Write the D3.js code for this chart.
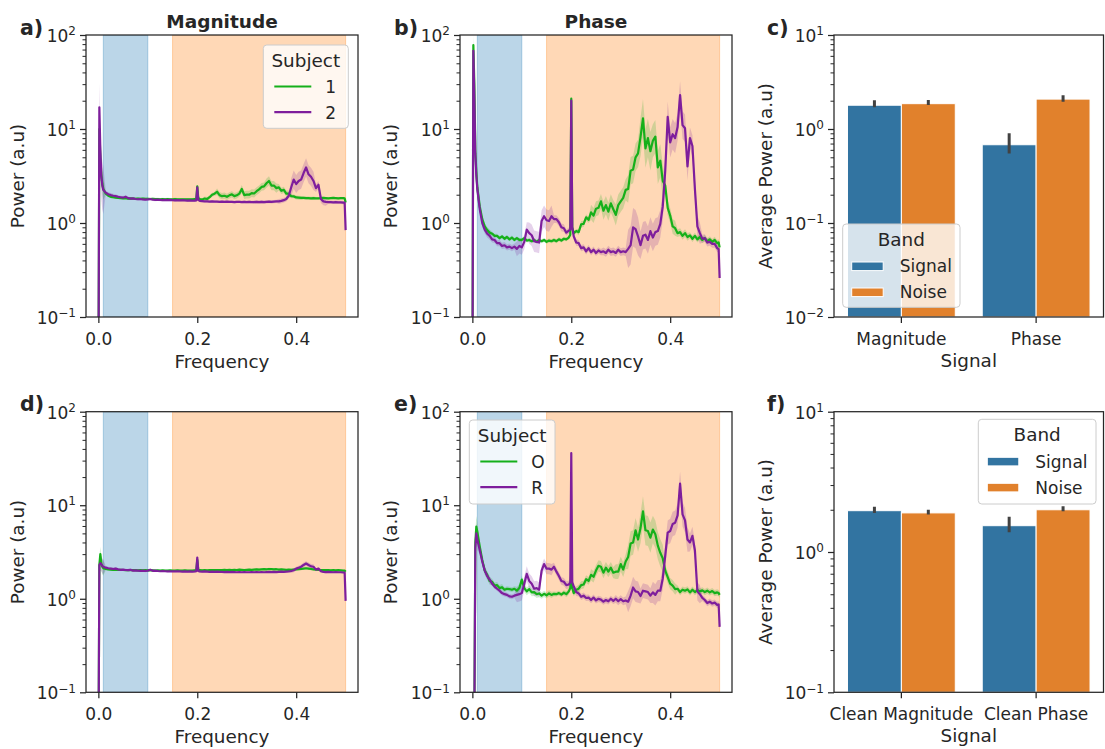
<!DOCTYPE html>
<html><head><meta charset="utf-8">
<script src="https://cdn.jsdelivr.net/npm/d3@7"></script>
<style>
body{margin:0;background:#fff;}
svg{display:block;font-family:"DejaVu Sans",sans-serif;}
</style></head><body>
<svg id="chart" width="1105" height="749"></svg>
<script>
// ---------- DATA ----------
const freqs = [0,0.002,0.004,0.006,0.008,0.01,
0.015,0.02,0.025,0.03,0.035,0.04,0.045,0.05,0.055,0.06,0.065,0.07,0.075,0.08,0.085,0.09,0.095,0.1,0.105,0.11,0.115,0.12,0.125,0.13,0.135,0.14,0.145,0.15,0.155,0.16,0.165,0.17,0.175,0.18,0.185,0.19,0.195,
0.198,0.2,0.202,
0.205,0.21,0.215,0.22,0.225,0.23,0.235,0.24,0.245,0.25,0.255,0.26,0.265,0.27,0.275,0.28,0.285,0.29,0.295,0.3,0.305,0.31,0.315,0.32,0.325,0.33,0.335,0.34,0.345,0.35,0.355,0.36,0.365,0.37,0.375,0.38,0.385,0.39,0.395,0.4,0.405,0.41,0.415,0.42,0.425,0.43,0.435,0.44,0.445,0.45,0.455,0.46,0.465,0.47,0.475,0.48,0.485,0.49,0.495,
0.498,0.5];

// a) Magnitude, subject 1 / 2
const magS1 = [0.01,10,5,3.3,2.6,2.3,
2.05,1.95,1.9,1.88,1.86,1.85,1.84,1.83,1.84,1.82,1.83,1.82,1.81,1.82,1.81,1.82,1.81,
1.81,1.8,1.81,1.8,1.8,1.79,1.8,1.79,1.8,1.79,1.79,1.8,1.79,1.78,1.79,1.78,1.79,1.78,1.79,1.8,
1.8,2.45,1.85,
1.8,1.78,1.82,1.8,1.88,2.0,2.05,2.15,1.98,1.93,
1.95,1.9,1.97,2.02,1.93,1.97,2.05,2.3,1.98,2.0,
2.0,2.08,2.06,2.18,2.28,2.42,2.45,2.65,2.8,2.5,
2.5,2.35,2.4,2.2,2.25,2.05,2.05,1.93,1.92,1.87,
1.86,1.85,1.85,1.84,1.84,1.83,1.84,1.83,1.83,1.84,1.85,1.84,1.83,1.84,1.85,1.84,1.83,1.84,1.84,
1.83,1.65];
const magS2 = [0.01,17,6,3.2,2.5,2.25,
2.1,2.02,1.98,1.95,1.93,1.9,1.88,1.86,1.9,1.84,1.82,1.83,1.8,1.79,1.8,1.78,1.77,
1.78,1.8,1.77,1.76,1.77,1.76,1.75,1.76,1.75,1.76,1.75,1.74,1.75,1.74,1.75,1.74,1.73,1.74,1.73,1.73,
1.74,2.4,1.76,
1.72,1.71,1.7,1.7,1.69,1.7,1.69,1.69,1.68,1.69,
1.68,1.69,1.68,1.68,1.67,1.68,1.68,1.67,1.68,1.67,
1.68,1.67,1.67,1.68,1.67,1.68,1.67,1.68,1.69,1.68,
1.69,1.7,1.7,1.72,1.75,1.8,1.95,2.4,2.9,2.6,
2.8,2.9,3.4,3.9,3.3,3.1,2.8,2.35,2.55,1.8,1.7,1.68,1.67,1.67,1.66,1.67,1.66,1.66,1.65,
1.65,0.84];

// b) Phase, subject 1 / 2
const phS1 = [0.01,78,30,6,3.5,2.4,
1.5,1.1,0.92,0.84,0.79,0.77,0.73,0.73,0.69,0.72,0.68,0.71,0.67,0.7,0.66,0.69,0.66,
0.66,0.69,0.65,0.66,0.64,0.66,0.63,0.66,0.64,0.66,0.63,0.65,0.64,0.66,0.64,0.67,0.65,0.68,0.67,0.7,
0.75,21,0.9,
0.78,0.82,0.8,0.97,0.98,1.15,1.08,1.3,1.2,1.42,
1.45,1.7,1.35,1.55,1.32,1.62,1.4,1.22,1.55,1.7,
1.85,2.25,2.3,3.6,3.7,5.0,5.5,8.2,13,6.2,
8.0,5.8,7.5,8.3,3.9,4.6,2.8,2.5,1.45,1.2,
0.92,0.88,0.78,0.8,0.73,0.78,0.71,0.74,0.68,0.73,0.67,0.71,0.66,0.69,0.64,0.67,0.63,0.66,0.61,
0.62,0.55];
const phS2 = [0.01,68,22,5.5,3.2,2.3,
1.4,1.0,0.85,0.77,0.73,0.67,0.66,0.61,0.61,0.57,0.58,0.55,0.56,0.54,0.56,0.53,0.57,
0.55,0.63,0.85,0.78,0.74,0.64,0.63,0.62,1.05,1.18,1.07,1.05,1.18,1.1,1.1,1.02,0.9,0.88,0.79,0.83,
0.85,20,0.9,
0.72,0.62,0.61,0.54,0.55,0.5,0.54,0.49,0.52,0.48,
0.51,0.49,0.5,0.48,0.52,0.49,0.5,0.48,0.52,0.49,
0.5,0.49,0.53,0.58,0.9,0.86,0.72,0.58,0.73,0.75,
0.66,0.82,0.7,0.8,0.82,0.98,1.5,3.6,13.5,7.2,
8.8,8.0,10.5,23,11,10.2,4.0,8.0,6.6,2.3,0.92,0.78,0.68,0.69,0.62,0.63,0.6,0.6,0.54,
0.53,0.26];

// d) Clean magnitude, subject O / R
const cmS1 = [0.01,2.3,3.0,2.4,2.2,2.12,
2.08,2.06,2.05,2.04,2.05,2.03,2.04,2.03,2.02,2.03,2.02,2.03,2.02,2.01,2.02,2.01,2.02,
2.01,2.02,2.01,2.0,2.01,2.0,2.01,2.0,2.0,2.01,2.0,2.0,2.01,2.0,2.0,2.01,2.0,2.0,2.0,2.01,
2.01,2.6,2.05,
2.02,2.01,2.02,2.01,2.02,2.03,2.02,2.03,2.02,2.03,
2.04,2.03,2.04,2.03,2.04,2.03,2.05,2.04,2.03,2.04,
2.05,2.04,2.05,2.06,2.05,2.06,2.07,2.06,2.08,2.07,
2.06,2.07,2.05,2.06,2.05,2.04,2.05,2.04,2.05,2.06,
2.07,2.08,2.1,2.12,2.1,2.08,2.06,2.05,2.04,2.03,2.02,2.03,2.02,2.01,2.02,2.01,2.02,2.01,2.0,
2.0,1.95];
const cmS2 = [0.01,2.3,2.4,2.35,2.25,2.2,
2.15,2.12,2.1,2.08,2.1,2.06,2.04,2.05,2.03,2.02,2.04,2.0,2.01,2.0,1.99,2.0,1.98,
2.0,2.04,1.99,2.0,1.98,1.97,1.98,1.97,1.96,1.97,1.96,1.96,1.97,1.96,1.95,1.96,1.95,1.96,1.95,1.96,
1.97,2.75,1.98,
1.96,1.95,1.96,1.95,1.94,1.95,1.94,1.95,1.94,1.94,
1.93,1.94,1.93,1.94,1.93,1.92,1.93,1.92,1.93,1.92,
1.92,1.93,1.92,1.93,1.92,1.93,1.92,1.93,1.94,1.93,
1.94,1.93,1.94,1.95,1.94,1.95,1.96,1.98,2.02,2.1,
2.15,2.2,2.3,2.38,2.3,2.22,2.2,2.05,2.1,1.97,1.94,1.93,1.94,1.93,1.92,1.93,1.92,1.92,1.91,
1.91,0.95];

// e) Clean phase, subject O / R
const cpS1 = [0.01,0.01,0.05,4.0,5.9,5.2,
3.6,2.6,2.0,1.8,1.55,1.52,1.38,1.4,1.3,1.33,1.25,1.28,1.27,1.25,1.28,1.22,1.3,
1.6,1.3,1.2,1.27,1.17,1.18,1.12,1.14,1.08,1.13,1.09,1.14,1.1,1.13,1.12,1.15,1.11,1.16,1.12,1.2,
1.3,1.9,1.3,
1.15,1.25,1.28,1.4,1.42,1.62,1.55,1.8,1.72,2.0,
2.25,2.2,1.9,2.15,1.95,2.15,1.9,1.95,1.95,2.35,
2.05,2.5,2.8,3.9,4.0,5.4,4.3,5.7,8.6,5.4,
5.3,4.5,5.5,4.9,3.7,3.1,2.7,2.0,1.7,1.45,
1.38,1.27,1.28,1.18,1.25,1.22,1.26,1.17,1.25,1.18,1.24,1.2,1.23,1.18,1.22,1.17,1.21,1.15,1.17,
1.15,1.1];
const cpS2 = [0.01,0.01,0.05,3.5,5.0,4.3,
3.3,2.5,2.0,1.75,1.6,1.45,1.35,1.28,1.22,1.15,1.12,1.1,1.06,1.05,1.08,1.1,1.12,
1.15,1.45,1.85,1.55,1.45,1.28,1.3,1.25,2.0,2.35,2.1,2.1,2.05,2.2,1.95,1.75,1.55,1.52,1.4,1.42,
1.5,36,1.5,
1.35,1.18,1.14,1.05,1.08,1.02,1.03,0.97,1.03,0.96,
1.0,0.98,0.93,0.97,0.94,1.0,0.95,1.0,0.94,0.99,
0.94,0.96,0.93,1.08,1.32,1.2,1.18,1.07,1.22,1.2,
1.18,1.08,1.17,1.1,1.22,1.22,1.65,2.9,5.1,5.3,
6.3,6.5,7.8,17,8.0,6.9,4.3,4.0,4.7,3.3,1.2,1.12,1.02,0.97,0.9,0.93,0.89,0.91,0.86,
0.87,0.5];

// confidence-band spread (multiplicative), one value every 0.025 in frequency
const ciStep = 0.025;
const ciMag1 = [1.3,1.03,1.03,1.03,1.03,1.03,1.03,1.03,1.03,1.05,1.08,1.08,1.1,1.1,1.12,1.08,1.05,1.04,1.03,1.03,1.03];
const ciMag2 = [1.8,1.05,1.04,1.03,1.03,1.03,1.03,1.03,1.03,1.03,1.03,1.03,1.03,1.04,1.04,1.06,1.25,1.25,1.1,1.04,1.04];
const ciPh1  = [1.3,1.08,1.05,1.05,1.05,1.05,1.05,1.05,1.05,1.08,1.2,1.25,1.3,1.4,1.6,1.5,1.2,1.1,1.08,1.08,1.08];
const ciPh2  = [1.3,1.1,1.08,1.08,1.2,1.3,1.3,1.1,1.08,1.08,1.08,1.1,1.1,1.6,1.4,1.4,1.45,1.4,1.3,1.1,1.1];
const ciCm1  = [1.2,1.03,1.02,1.02,1.02,1.02,1.02,1.02,1.02,1.02,1.02,1.02,1.02,1.03,1.03,1.02,1.03,1.03,1.02,1.02,1.02];
const ciCm2  = [1.2,1.04,1.03,1.03,1.03,1.02,1.02,1.02,1.03,1.02,1.02,1.02,1.02,1.02,1.02,1.02,1.05,1.06,1.03,1.02,1.02];
const ciCp1  = [1.3,1.1,1.08,1.06,1.1,1.1,1.08,1.06,1.08,1.1,1.15,1.15,1.2,1.35,1.45,1.4,1.15,1.08,1.08,1.08,1.08];
const ciCp2  = [1.3,1.1,1.06,1.06,1.2,1.2,1.15,1.1,1.1,1.08,1.08,1.08,1.1,1.3,1.2,1.3,1.35,1.35,1.25,1.08,1.08];

const signalBand = [0.01, 0.1];
const noiseBand = [0.15, 0.5];
const freqTicks = [0.0, 0.2, 0.4];
const lineTicksY = [0.1, 1, 10, 100];
const subjectsTop = ["1", "2"];
const subjectsBottom = ["O", "R"];

// bar panels
const bands = ["Signal", "Noise"];
const signalsC = ["Magnitude", "Phase"];
const signalPowerC = [1.79, 0.68];
const noisePowerC = [1.86, 2.08];
const signalErrC = [[1.7, 2.02], [0.55, 0.9]];
const noiseErrC = [[1.8, 2.03], [1.95, 2.28]];
const barTicksC = [0.01, 0.1, 1, 10];

const signalsF = ["Clean Magnitude", "Clean Phase"];
const signalPowerF = [1.97, 1.54];
const noisePowerF = [1.9, 2.0];
const signalErrF = [[1.9, 2.1], [1.38, 1.78]];
const noiseErrF = [[1.85, 2.0], [1.95, 2.12]];
const barTicksF = [0.1, 1, 10];

// ---------- STYLE ----------
const INK = "#262626";
const GREEN = "#15b01a", PURPLE = "#7e1e9c";
const BLUE_BAR = "#3274a1", ORANGE_BAR = "#e1812c";
const svg = d3.select("#chart");
let clipId = 0;

function styleAxis(g) {
  g.attr("font-size", null).attr("font-family", null);
  g.select(".domain").remove();
  g.selectAll(".tick line").attr("stroke", INK).attr("stroke-width", 1.25);
  g.selectAll(".tick text").attr("fill", INK).style("font-size", "17px");
}

function logYAxis(x0, y, majors) {
  const g = svg.append("g").attr("transform", `translate(${x0},0)`)
    .call(d3.axisLeft(y).tickValues(majors).tickSize(6).tickFormat(() => ""));
  styleAxis(g);
  g.selectAll(".tick text").each(function(d) {
    const t = d3.select(this);
    t.attr("x", -10).attr("dy", null).attr("y", 6.5).attr("text-anchor", "end");
    t.append("tspan").text("10");
    const e = Math.round(Math.log10(d));
    t.append("tspan").attr("dy", -6.8).style("font-size", "12px").text(e < 0 ? "\u2212" + (-e) : String(e));
  });
  const minors = y.ticks().filter(v => !majors.some(m => Math.abs(m - v) < 1e-9));
  const gm = svg.append("g").attr("transform", `translate(${x0},0)`)
    .call(d3.axisLeft(y).tickValues(minors).tickSize(3.5).tickFormat(() => ""));
  styleAxis(gm);
  gm.selectAll(".tick line").attr("stroke-width", 1);
}

function frame(x0, x1, y0, y1) {
  svg.append("rect").attr("x", x0).attr("y", y0).attr("width", x1 - x0).attr("height", y1 - y0)
    .attr("fill", "none").attr("stroke", INK).attr("stroke-width", 1.25);
}

function textAt(x, y, s, size, opts = {}) {
  const t = svg.append("text").attr("x", x).attr("y", y).text(s)
    .attr("fill", INK).style("font-size", size + "px")
    .attr("text-anchor", opts.anchor || "middle");
  if (opts.bold) t.attr("font-weight", "bold");
  if (opts.rotate) t.attr("transform", `rotate(-90,${x},${y})`);
  return t;
}

function legendBox(left, top, w, h) {
  svg.append("rect").attr("x", left).attr("y", top).attr("width", w).attr("height", h)
    .attr("rx", 3.5).attr("fill", "#ffffff").attr("fill-opacity", 0.8)
    .attr("stroke", "#cccccc").attr("stroke-width", 1);
}

function linePanel(p) {
  const x = d3.scaleLinear().domain([-0.025, 0.525]).range([p.x0, p.x1]);
  const y = d3.scaleLog().domain([0.1, 100]).range([p.y1, p.y0]);
  const id = "clip" + (clipId++);
  svg.append("clipPath").attr("id", id).append("rect")
    .attr("x", p.x0).attr("y", p.y0).attr("width", p.x1 - p.x0).attr("height", p.y1 - p.y0);
  const g = svg.append("g").attr("clip-path", `url(#${id})`);
  [[signalBand, "#1f77b4"], [noiseBand, "#ff7f0e"]].forEach(([b, c]) => {
    g.append("rect").attr("x", x(b[0])).attr("y", p.y0).attr("width", x(b[1]) - x(b[0]))
      .attr("height", p.y1 - p.y0).attr("fill", c).attr("fill-opacity", 0.3)
      .attr("stroke", c).attr("stroke-opacity", 0.3).attr("stroke-width", 1);
  });
  const series = [[p.s1, p.c1, GREEN], [p.s2, p.c2, PURPLE]];
  series.forEach(([vals, ci, col]) => {
    const data = freqs.map((f, i) => ({ f, v: vals[i], k: ci[Math.round(f / ciStep)] }));
    g.append("path").datum(data)
      .attr("d", d3.area().x(d => x(d.f)).y0(d => y(d.v / d.k)).y1(d => y(d.v * d.k)))
      .attr("fill", col).attr("fill-opacity", 0.2);
  });
  series.forEach(([vals, ci, col]) => {
    const data = freqs.map((f, i) => ({ f, v: vals[i] }));
    g.append("path").datum(data)
      .attr("d", d3.line().x(d => x(d.f)).y(d => y(d.v)))
      .attr("fill", "none").attr("stroke", col).attr("stroke-width", 2.2)
      .attr("stroke-linejoin", "round");
  });
  frame(p.x0, p.x1, p.y0, p.y1);
  const gx = svg.append("g").attr("transform", `translate(0,${p.y1})`)
    .call(d3.axisBottom(x).tickValues(freqTicks).tickFormat(d3.format(".1f")).tickSize(6).tickPadding(10));
  styleAxis(gx);
  logYAxis(p.x0, y, lineTicksY);
  textAt((p.x0 + p.x1) / 2, p.y1 + 50.5, "Frequency", 18.4);
  textAt(p.ylx, (p.y0 + p.y1) / 2, "Power (a.u)", 18.4, { rotate: true });
  if (p.title) textAt((p.x0 + p.x1) / 2, 27.5, p.title, 18.5, { bold: true });
  textAt(p.x0 - 66, p.y0 - 0.5, p.letter, 20.5, { bold: true, anchor: "start" });
  if (p.legend) {
    const L = p.legend;
    legendBox(L.left, L.top, L.w, L.h);
    textAt(L.left + L.w / 2, L.top + 21.5, "Subject", 18.4);
    L.labels.forEach((lab, i) => {
      const cy = L.top + 41.5 + i * 25.7;
      svg.append("line").attr("x1", L.left + 11).attr("x2", L.left + 48)
        .attr("y1", cy).attr("y2", cy).attr("stroke", [GREEN, PURPLE][i]).attr("stroke-width", 2.2);
      textAt(L.left + 62, cy + 6.3, lab, 17, { anchor: "start" });
    });
  }
}

function barPanel(p) {
  const x = d3.scaleBand().domain(p.cats).range([p.x0, p.x1]).paddingInner(0).paddingOuter(0);
  const bw = x.bandwidth();
  const hue = d3.scaleBand().domain(bands).range([0, 0.8 * bw]);
  const y = d3.scaleLog().domain(p.yDomain).range([p.y1, p.y0]);
  const id = "clip" + (clipId++);
  svg.append("clipPath").attr("id", id).append("rect")
    .attr("x", p.x0).attr("y", p.y0).attr("width", p.x1 - p.x0).attr("height", p.y1 - p.y0);
  const g = svg.append("g").attr("clip-path", `url(#${id})`);
  const rows = [];
  p.cats.forEach((c, i) => {
    rows.push({ c, b: "Signal", v: p.sig[i], e: p.sigErr[i], col: BLUE_BAR });
    rows.push({ c, b: "Noise", v: p.noi[i], e: p.noiErr[i], col: ORANGE_BAR });
  });
  g.selectAll("rect.bar").data(rows).join("rect").attr("class", "bar")
    .attr("x", d => x(d.c) + 0.1 * bw + hue(d.b)).attr("width", hue.bandwidth())
    .attr("y", d => y(d.v)).attr("height", d => p.y1 - y(d.v))
    .attr("fill", d => d.col).attr("stroke", "#ffffff").attr("stroke-width", 1);
  g.selectAll("line.err").data(rows).join("line").attr("class", "err")
    .attr("x1", d => x(d.c) + 0.1 * bw + hue(d.b) + hue.bandwidth() / 2)
    .attr("x2", d => x(d.c) + 0.1 * bw + hue(d.b) + hue.bandwidth() / 2)
    .attr("y1", d => y(d.e[0])).attr("y2", d => y(d.e[1]))
    .attr("stroke", "#424242").attr("stroke-width", 3);
  frame(p.x0, p.x1, p.y0, p.y1);
  const gx = svg.append("g").attr("transform", `translate(0,${p.y1})`)
    .call(d3.axisBottom(x).tickSize(6).tickPadding(10));
  styleAxis(gx);
  logYAxis(p.x0, y, p.ticks);
  textAt((p.x0 + p.x1) / 2, p.y1 + 50, "Signal", 18.4);
  textAt(p.ylx, (p.y0 + p.y1) / 2, "Average Power (a.u)", 18.4, { rotate: true });
  textAt(p.x0 - 67, p.y0 - 0.5, p.letter, 20.5, { bold: true, anchor: "start" });
  const L = p.legend;
  legendBox(L.left, L.top, L.w, L.h);
  textAt(L.left + L.w / 2, L.top + 22, "Band", 18.4);
  bands.forEach((b, i) => {
    const ty = L.top + 38 + i * 26;
    svg.append("rect").attr("x", L.left + 9).attr("y", ty).attr("width", 31.5).attr("height", 8.6)
      .attr("fill", [BLUE_BAR, ORANGE_BAR][i]).attr("stroke", "#ffffff").attr("stroke-width", 1);
    textAt(L.left + 57, ty + 10.2, b, 17, { anchor: "start" });
  });
}

// ---------- DRAW ----------
linePanel({ x0: 86, x1: 358, y0: 35, y1: 317, s1: magS1, s2: magS2, c1: ciMag1, c2: ciMag2,
  title: "Magnitude", letter: "a)", ylx: 24,
  legend: { left: 263.3, top: 45, w: 85, h: 83.3, labels: subjectsTop } });
linePanel({ x0: 460, x1: 732, y0: 35, y1: 317, s1: phS1, s2: phS2, c1: ciPh1, c2: ciPh2,
  title: "Phase", letter: "b)", ylx: 397 });
linePanel({ x0: 86, x1: 358, y0: 411.7, y1: 692.3, s1: cmS1, s2: cmS2, c1: ciCm1, c2: ciCm2,
  letter: "d)", ylx: 24 });
linePanel({ x0: 460, x1: 732, y0: 411.7, y1: 692.3, s1: cpS1, s2: cpS2, c1: ciCp1, c2: ciCp2,
  letter: "e)", ylx: 397,
  legend: { left: 469.3, top: 420, w: 85.7, h: 84, labels: subjectsBottom } });
barPanel({ x0: 834, x1: 1103.5, y0: 35, y1: 317, cats: signalsC, sig: signalPowerC, noi: noisePowerC,
  sigErr: signalErrC, noiErr: noiseErrC, yDomain: [0.01, 10], ticks: barTicksC, letter: "c)", ylx: 772,
  legend: { left: 842.7, top: 224, w: 117.3, h: 83.3 } });
barPanel({ x0: 834, x1: 1103.5, y0: 411.7, y1: 692.3, cats: signalsF, sig: signalPowerF, noi: noisePowerF,
  sigErr: signalErrF, noiErr: noiseErrF, yDomain: [0.1, 10], ticks: barTicksF, letter: "f)", ylx: 772,
  legend: { left: 978.3, top: 419.3, w: 117.7, h: 84.7 } });
</script>
</body></html>
